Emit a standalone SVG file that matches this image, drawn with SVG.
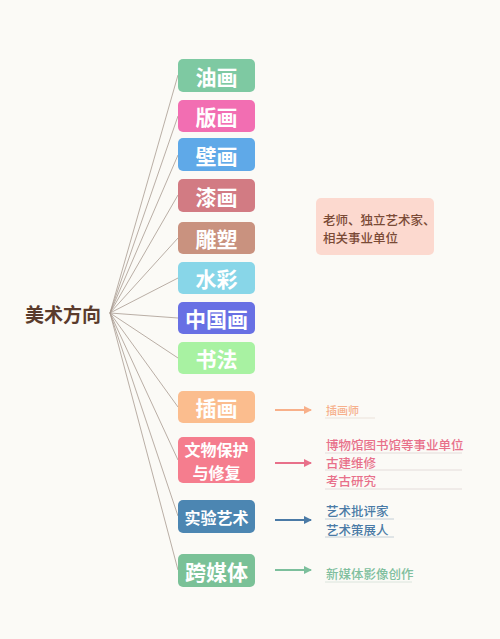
<svg xmlns="http://www.w3.org/2000/svg" width="500" height="639" viewBox="0 0 500 639">
<style>
.bg{fill:#fbfaf6}
.box{rx:5;ry:5}
.lbl{font-family:"Noto Sans CJK SC","Noto Sans",sans-serif;font-weight:bold;fill:#ffffff;text-anchor:middle;dominant-baseline:central}
.conn line{stroke:#a89a90;stroke-width:0.8;fill:none}
.arr{stroke-width:2;fill:none}
.sub{font-family:"Noto Sans CJK SC","Noto Sans",sans-serif;font-size:12.5px;font-weight:500;dominant-baseline:central}
.ul{stroke-width:0.8}
</style>
<defs>
<marker id="aO" markerWidth="8" markerHeight="8" refX="7" refY="4" orient="auto" markerUnits="userSpaceOnUse"><path d="M0,0 L8,4 L0,8 Z" fill="#f8b08a"/></marker>
<marker id="aP" markerWidth="8" markerHeight="8" refX="7" refY="4" orient="auto" markerUnits="userSpaceOnUse"><path d="M0,0 L8,4 L0,8 Z" fill="#e8708a"/></marker>
<marker id="aB" markerWidth="8" markerHeight="8" refX="7" refY="4" orient="auto" markerUnits="userSpaceOnUse"><path d="M0,0 L8,4 L0,8 Z" fill="#4a7aa6"/></marker>
<marker id="aG" markerWidth="8" markerHeight="8" refX="7" refY="4" orient="auto" markerUnits="userSpaceOnUse"><path d="M0,0 L8,4 L0,8 Z" fill="#7cbf9c"/></marker>
</defs>
<rect class="bg" x="0" y="0" width="500" height="639"/>

<g id="connectors" class="conn">
<line x1="110" y1="313" x2="178" y2="75"/>
<line x1="110" y1="313" x2="178" y2="116"/>
<line x1="110" y1="313" x2="178" y2="155"/>
<line x1="110" y1="313" x2="178" y2="195"/>
<line x1="110" y1="313" x2="178" y2="238"/>
<line x1="110" y1="313" x2="178" y2="278"/>
<line x1="110" y1="313" x2="178" y2="318"/>
<line x1="110" y1="313" x2="178" y2="358"/>
<line x1="110" y1="313" x2="178" y2="407"/>
<line x1="110" y1="313" x2="178" y2="460"/>
<line x1="110" y1="313" x2="178" y2="516"/>
<line x1="110" y1="313" x2="178" y2="570"/>
</g>

<g id="root"><text x="63" y="313" style="font-family:'Noto Sans CJK SC',sans-serif;font-weight:bold;font-size:19px;fill:#5a3b2c;text-anchor:middle;dominant-baseline:central">美术方向</text></g>

<g id="n1"><rect class="box" x="178" y="59" width="77" height="33" fill="#7ec9a2"/><text class="lbl" x="216.5" y="75.5" font-size="21">油画</text></g>
<g id="n2"><rect class="box" x="178" y="100" width="77" height="32" fill="#f26eb2"/><text class="lbl" x="216.5" y="116" font-size="21">版画</text></g>
<g id="n3"><rect class="box" x="178" y="138" width="77" height="33" fill="#5fa9e8"/><text class="lbl" x="216.5" y="154.5" font-size="21">壁画</text></g>
<g id="n4"><rect class="box" x="178" y="179" width="77" height="33" fill="#d27b83"/><text class="lbl" x="216.5" y="195.5" font-size="21">漆画</text></g>
<g id="n5"><rect class="box" x="178" y="222" width="77" height="32" fill="#c9927f"/><text class="lbl" x="216.5" y="238" font-size="21">雕塑</text></g>
<g id="n6"><rect class="box" x="178" y="262" width="77" height="32" fill="#88d6e8"/><text class="lbl" x="216.5" y="278" font-size="21">水彩</text></g>
<g id="n7"><rect class="box" x="178" y="302" width="77" height="32" fill="#6870e4"/><text class="lbl" x="216.5" y="318" font-size="21">中国画</text></g>
<g id="n8"><rect class="box" x="178" y="342" width="77" height="32" fill="#a8f2a2"/><text class="lbl" x="216.5" y="358" font-size="21">书法</text></g>
<g id="n9"><rect class="box" x="178" y="391" width="77" height="32" fill="#fbbd8e"/><text class="lbl" x="216.5" y="407" font-size="21">插画</text></g>
<g id="n10"><rect class="box" x="178" y="437" width="77" height="46" fill="#f57d8e"/><text class="lbl" x="216.5" y="448.5" font-size="16">文物保护</text><text class="lbl" x="216.5" y="471.5" font-size="16">与修复</text></g>
<g id="n11"><rect class="box" x="178" y="500" width="77" height="33" fill="#4c86b2"/><text class="lbl" x="216.5" y="516.5" font-size="16">实验艺术</text></g>
<g id="n12"><rect class="box" x="178" y="554" width="77" height="33" fill="#7ac197"/><text class="lbl" x="216.5" y="570.5" font-size="21">跨媒体</text></g>

<g id="note"><rect x="316" y="198" width="118" height="57" rx="5" ry="5" fill="#fcd9cf"/>
<text x="323" y="219" style="font-family:'Noto Sans CJK SC',sans-serif;font-size:12.5px;font-weight:500;fill:#7a4a36;dominant-baseline:central">老师、独立艺术家、</text>
<text x="323" y="237" style="font-family:'Noto Sans CJK SC',sans-serif;font-size:12.5px;font-weight:500;fill:#7a4a36;dominant-baseline:central">相关事业单位</text></g>

<g id="out-illus">
<line class="arr" x1="275" y1="410" x2="311" y2="410" stroke="#f8b08a" marker-end="url(#aO)"/>
<text class="sub" x="326" y="410" fill="#f6b08c" style="font-size:11px">插画师</text>
<line class="ul" x1="325" y1="418" x2="375" y2="418" stroke="#e8dcd4"/>
</g>
<g id="out-relic">
<line class="arr" x1="275" y1="463" x2="311" y2="463" stroke="#e8708a" marker-end="url(#aP)"/>
<text class="sub" x="326" y="444" fill="#e8708a">博物馆图书馆等事业单位</text>
<line class="ul" x1="325" y1="453" x2="462" y2="453" stroke="#e0d4d4"/>
<text class="sub" x="326" y="462" fill="#e8708a">古建维修</text>
<line class="ul" x1="325" y1="470" x2="462" y2="470" stroke="#e0d4d4"/>
<text class="sub" x="326" y="480" fill="#e8708a">考古研究</text>
<line class="ul" x1="325" y1="489" x2="462" y2="489" stroke="#e0d4d4"/>
</g>
<g id="out-exp">
<line class="arr" x1="275" y1="520" x2="311" y2="520" stroke="#4a7aa6" marker-end="url(#aB)"/>
<text class="sub" x="326" y="510" fill="#4a7aa6">艺术批评家</text>
<line class="ul" x1="325" y1="519" x2="394" y2="519" stroke="#b8c4d0"/>
<text class="sub" x="326" y="529" fill="#4a7aa6">艺术策展人</text>
<line class="ul" x1="325" y1="537" x2="394" y2="537" stroke="#b8c4d0"/>
</g>
<g id="out-media">
<line class="arr" x1="275" y1="570" x2="311" y2="570" stroke="#7cbf9c" marker-end="url(#aG)"/>
<text class="sub" x="326" y="573" fill="#80bf9e">新媒体影像创作</text>
<line class="ul" x1="325" y1="582" x2="412" y2="582" stroke="#d4e0d8"/>
</g>
</svg>
